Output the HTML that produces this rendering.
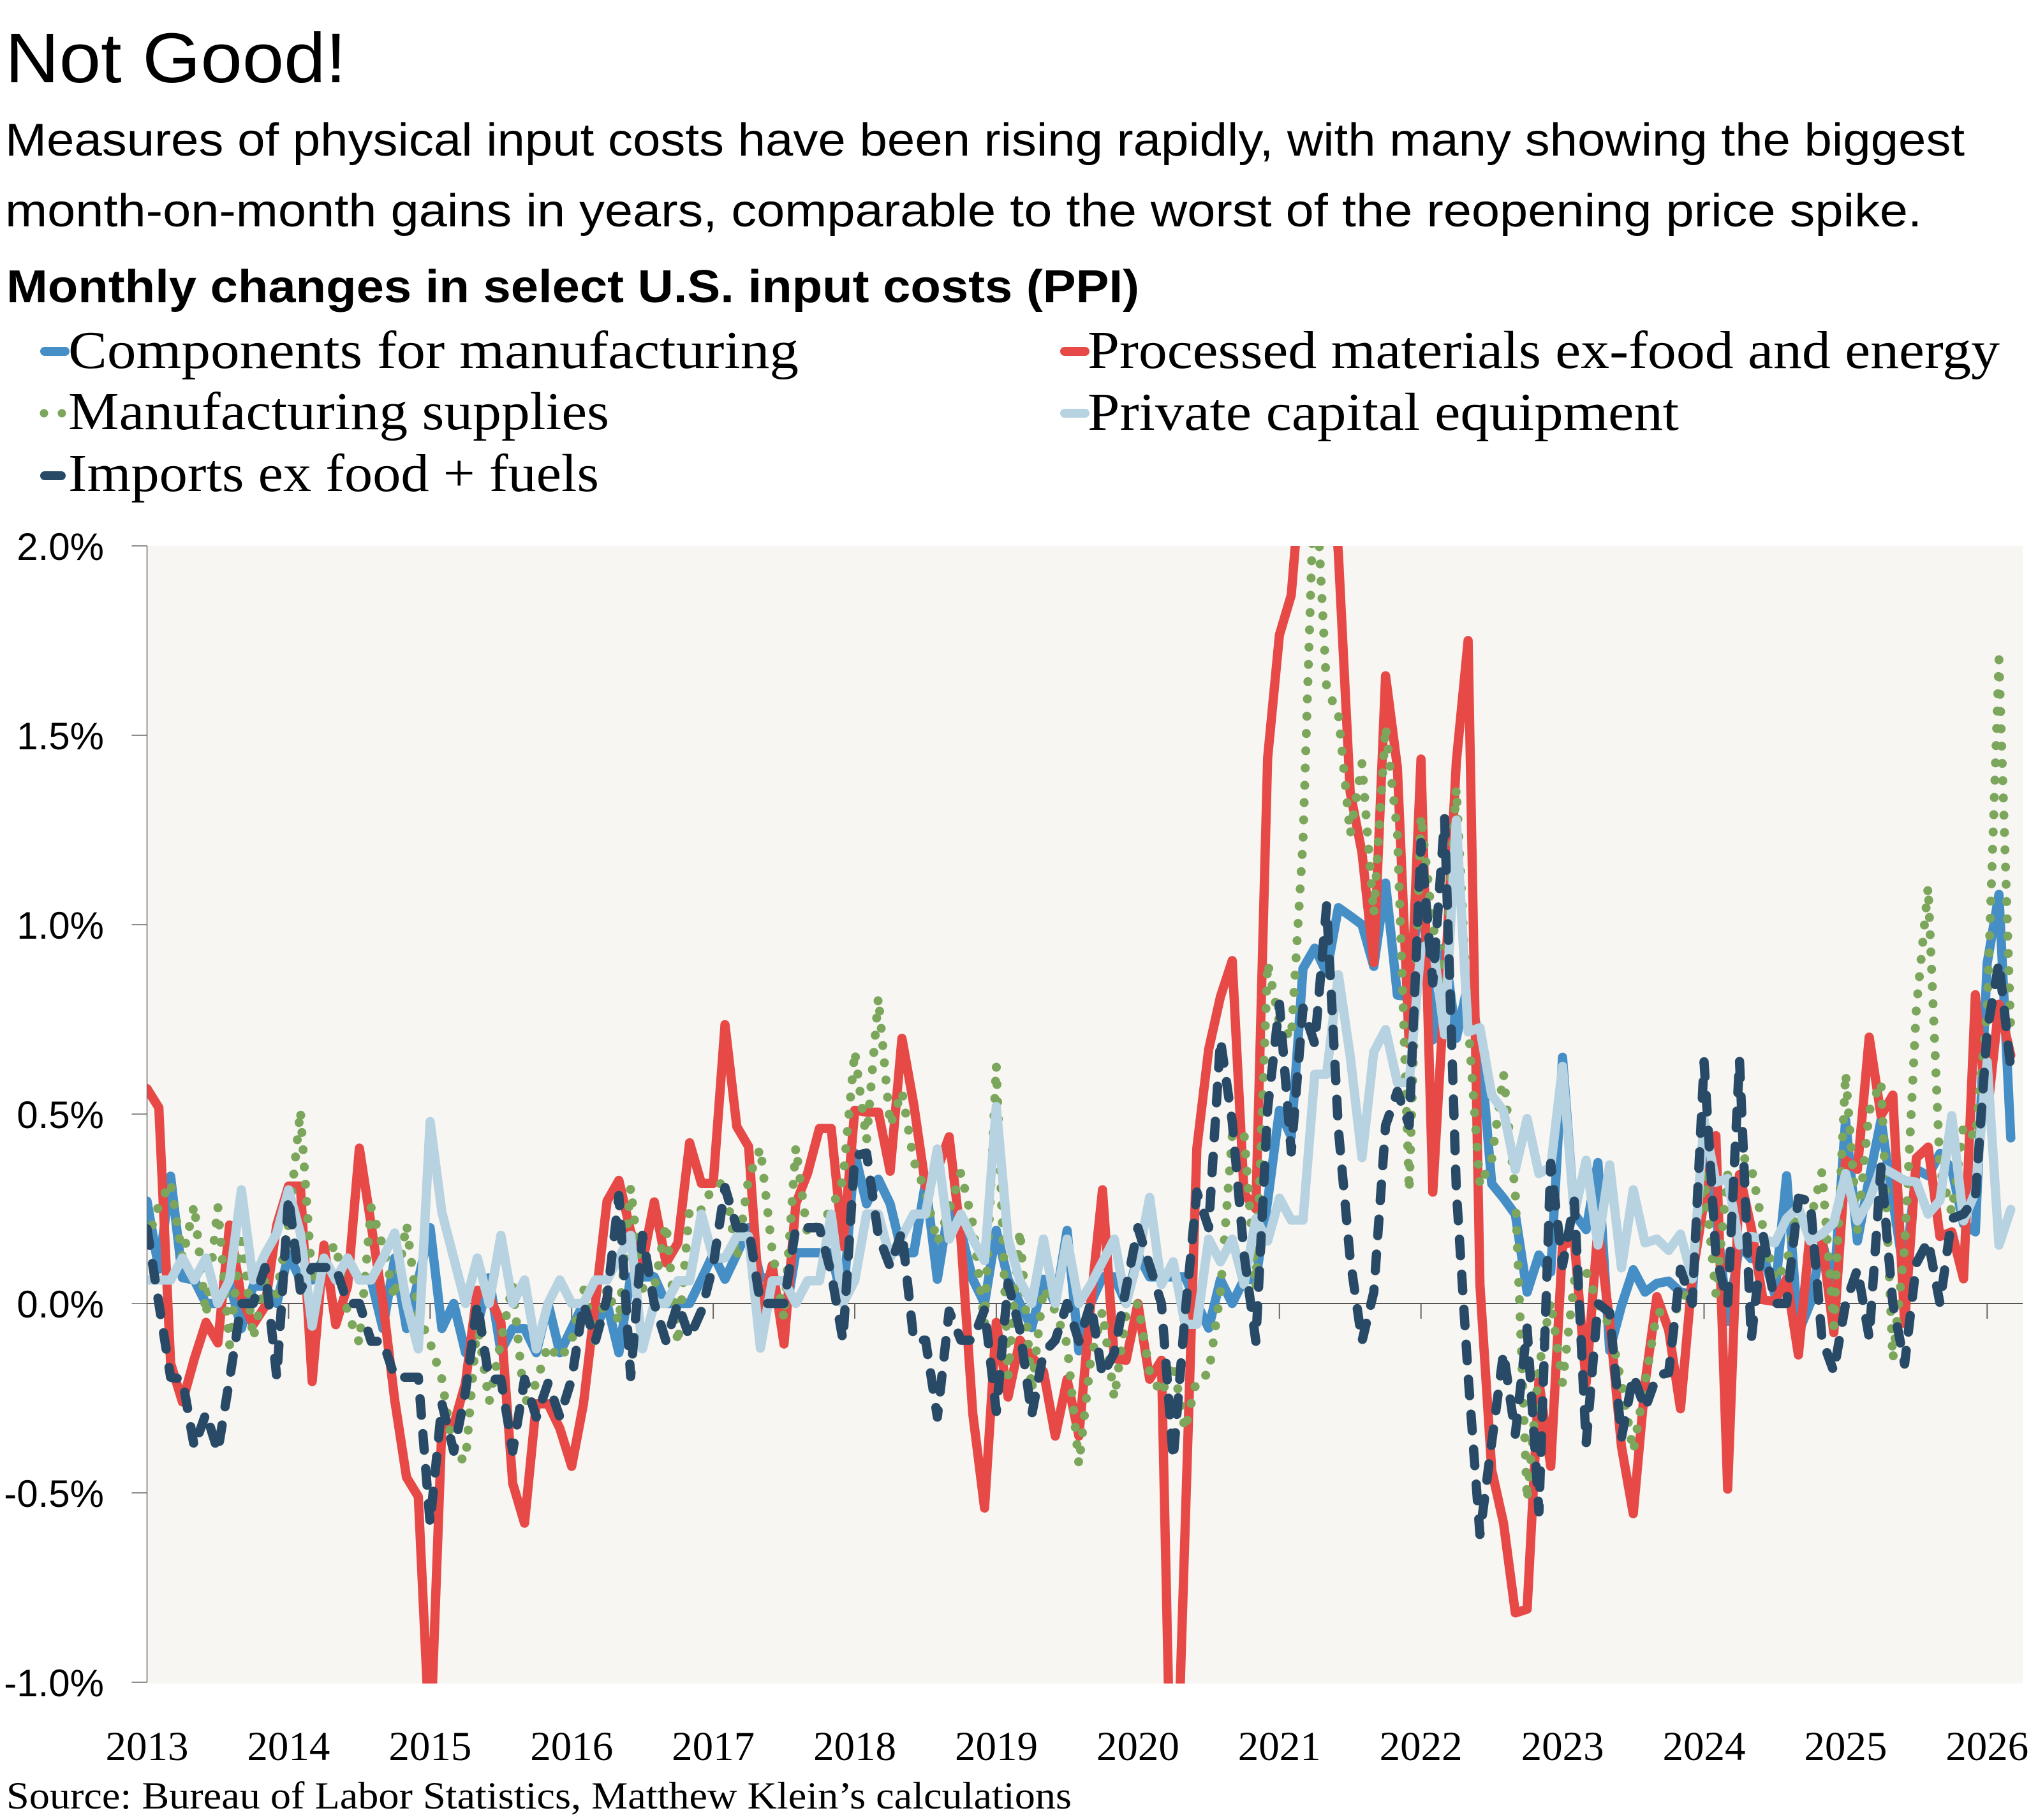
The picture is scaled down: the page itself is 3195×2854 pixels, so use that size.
<!DOCTYPE html>
<html lang="en">
<head>
<meta charset="utf-8">
<title>Not Good!</title>
<style>
html,body{margin:0;padding:0;background:#fff;width:3195px;height:2854px;overflow:hidden}
svg{display:block}
text{fill:#000}
.sans{font-family:"Liberation Sans",sans-serif}
.serif{font-family:"Liberation Serif",serif}
</style>
</head>
<body>
<svg id="chart" xmlns="http://www.w3.org/2000/svg" width="3195" height="2854" viewBox="0 0 3195 2854">
  <rect x="0" y="0" width="3195" height="2854" fill="#ffffff"/>
  <text class="sans" x="8" y="129" font-size="110" textLength="535" lengthAdjust="spacingAndGlyphs">Not Good!</text>
  <text class="sans" x="8" y="244" font-size="72" textLength="3072" lengthAdjust="spacingAndGlyphs">Measures of physical input costs have been rising rapidly, with many showing the biggest</text>
  <text class="sans" x="8" y="355" font-size="72" textLength="3005" lengthAdjust="spacingAndGlyphs">month-on-month gains in years, comparable to the worst of the reopening price spike.</text>
  <text class="sans" x="10" y="474" font-size="72" font-weight="700" textLength="1776" lengthAdjust="spacingAndGlyphs">Monthly changes in select U.S. input costs (PPI)</text>

  <g>
    <g>
      <line x1="70" y1="551" x2="102" y2="551" stroke="#468fc6" stroke-width="14" stroke-linecap="round"/>
      <text class="serif" x="107" y="577" font-size="84" textLength="1145" lengthAdjust="spacingAndGlyphs">Components for manufacturing</text>
    </g>
    <g>
      <circle cx="69" cy="648" r="6.5" fill="#7ca65c"/>
      <circle cx="97" cy="648" r="6.5" fill="#7ca65c"/>
      <text class="serif" x="107" y="673" font-size="84" textLength="848" lengthAdjust="spacingAndGlyphs">Manufacturing supplies</text>
    </g>
    <g>
      <line x1="70" y1="746" x2="96" y2="746" stroke="#284a66" stroke-width="14" stroke-linecap="round"/>
      <text class="serif" x="107" y="770" font-size="84" textLength="832" lengthAdjust="spacingAndGlyphs">Imports ex food + fuels</text>
    </g>
    <g>
      <line x1="1669" y1="551" x2="1701" y2="551" stroke="#e64946" stroke-width="14" stroke-linecap="round"/>
      <text class="serif" x="1705" y="577" font-size="84" textLength="1430" lengthAdjust="spacingAndGlyphs">Processed materials ex-food and energy</text>
    </g>
    <g>
      <line x1="1669" y1="648" x2="1701" y2="648" stroke="#b7d2e1" stroke-width="14" stroke-linecap="round"/>
      <text class="serif" x="1705" y="674" font-size="84" textLength="927" lengthAdjust="spacingAndGlyphs">Private capital equipment</text>
    </g>
  </g>

  <defs>
    <clipPath id="plot-clip"><rect x="231" y="856" width="2940" height="1784"/></clipPath>
  </defs>
  <rect x="231" y="856" width="2940" height="1784" fill="#f7f6f2"/>
  <g id="axes"></g>
  <g id="marks" clip-path="url(#plot-clip)"></g>

  <text class="serif" x="10" y="2836" font-size="60" textLength="1670" lengthAdjust="spacingAndGlyphs">Source: Bureau of Labor Statistics, Matthew Klein’s calculations</text>
</svg>

<script>
const yearLabels = ["2013","2014","2015","2016","2017","2018","2019","2020","2021","2022","2023","2024","2025","2026"];
const yTickValues = [2.0,1.5,1.0,0.5,0.0,-0.5,-1.0];
const yTickLabels = ["2.0%","1.5%","1.0%","0.5%","0.0%","-0.5%","-1.0%"];

const components = [.27,.09,.336,.068,.062,0,0,.057,-.066,.046,.046,0,.13,.062,.062,.12,.062,.12,.062,.062,-.066,.12,-.066,.062,.2,-.066,0,-.13,-.06,.068,-.126,-.066,-.066,-.13,0,-.13,-.066,0,-.066,0,-.13,.07,.07,.07,0,0,0,.064,.13,.064,.13,.2,.07,.064,-.054,.134,.134,.134,.134,0,.397,.263,.328,.263,.134,.134,.32,.064,.258,.19,.064,0,.193,.064,0,-.064,.064,0,.193,-.125,0,.07,.07,0,.13,.07,.07,.07,.07,0,-.065,.063,0,.063,.063,.27,.51,.44,.884,.938,.873,1.045,1.023,1.0,.89,1.11,.814,.81,1.13,.696,.94,.70,.846,.685,.316,.278,.235,.03,.128,.083,.65,.236,.195,.372,-.124,-.006,.089,.03,.053,.059,.03,.024,.484,.24,-.047,.154,.118,.13,.024,.337,-.077,0,.165,.04,.484,.165,.33,.484,.272,.07,.354,.337,.396,.354,.21,.189,.898,1.08,.437];

const processedMaterials = [.567,.517,-.158,-.26,-.147,-.05,-.104,.207,.014,-.056,-.008,.207,.31,.31,-.206,.154,-.056,.046,.41,.207,.003,-.255,-.459,-.51,-1.18,-.32,-.32,-.21,.035,.02,-.05,-.475,-.58,-.265,-.265,-.33,-.43,-.265,0,.27,.325,.19,.107,.268,.107,.16,.424,.317,.317,.736,.467,.414,-.03,.10,-.107,.263,.344,.462,.462,.15,.51,.505,.505,.349,.70,.526,.31,.354,.44,.17,-.29,-.54,-.05,-.247,-.097,-.14,-.18,-.35,-.2,-.35,0,.30,-.146,-.15,0,-.2,-.15,-1.6,-.6,.41,.67,.81,.905,.29,.25,1.44,1.765,1.87,2.25,2.4,2.4,1.98,1.35,1.19,.90,1.657,1.415,.685,1.437,.294,.83,1.43,1.75,.05,-.44,-.58,-.817,-.807,-.205,-.43,.154,.165,-.21,.2,-.047,-.378,-.555,-.21,.018,-.07,-.278,.07,.27,.443,-.49,.34,.2,.01,.005,.065,-.136,.19,.165,-.077,.378,.354,.703,.496,.55,-.053,.384,.413,.177,.189,.065,.815,.496,.79,.655];

const manufacturingSupplies = [.164,.26,.32,.12,.26,-.03,.255,-.11,.186,-.093,.057,.025,.21,.51,.057,.12,.156,-.024,-.104,.253,.15,.014,.21,-.03,-.104,-.2,-.4,-.415,-.05,-.26,-.1,.05,-.265,-.21,-.11,-.147,-.1,.04,-.1,.04,-.05,.306,.04,.04,.21,-.107,.252,.247,.31,.32,.12,.33,.41,.14,-.04,.413,.18,.21,.247,.327,.666,.43,.808,.47,.56,.376,.295,.16,.247,.346,.21,-.054,.628,-.193,.193,-.23,.04,-.02,-.107,-.425,-.15,-.02,-.25,-.03,0,-.18,-.24,-.157,-.334,-.2,-.186,.03,.445,.45,.04,.9,.74,.70,1.22,2.23,1.625,1.555,1.238,1.426,1.027,1.523,1.244,.297,1.287,1.0,.85,1.36,.74,.31,.38,.605,.29,-.52,-.17,.006,-.21,.06,.085,0,-.06,-.21,-.39,-.21,-.024,-.02,-.012,.07,.34,.024,.34,.40,.36,.2,.06,.106,.26,.218,.348,-.06,.608,.19,.508,.585,-.148,.148,.78,1.10,.354,.24,.47,.437,.774,1.70,.72];

const privateCapital = [.062,.062,.062,.12,.062,.12,0,.062,.30,.062,.13,.186,.30,.186,-.06,.12,.062,.12,.062,.062,.12,.186,0,-.12,.48,.24,.12,0,.12,0,.18,0,.062,-.12,0,.062,0,0,.062,.062,.12,.18,-.12,0,0,.06,.06,.236,.12,.12,.177,.177,-.118,.06,.06,0,.06,.06,.236,0,.06,.236,.236,.12,.177,.236,.236,.408,.17,.236,.17,.113,.52,.17,.06,0,.17,0,.17,0,.05,.11,.17,0,.117,.28,.05,.11,-.055,-.055,.17,.11,.17,.05,.224,.165,.278,.22,.22,.605,.605,.868,.653,.385,.664,.723,.583,.583,.94,.95,.71,1.276,.717,.728,.55,.508,.353,.488,.343,.36,.626,.236,.378,.154,.366,.094,.30,.16,.17,.14,.183,.065,.484,.32,.33,.154,.177,.17,.16,.224,.254,.165,.183,.213,.343,.218,.272,.36,.343,.325,.32,.236,.272,.496,.218,.295,.638,.154,.248];

const importsExFuels = [.197,0,-.195,-.2,-.378,-.29,-.39,-.2,0,0,.095,-.195,.28,.035,.095,.095,.095,0,0,-.1,-.1,-.195,-.195,-.195,-.58,-.265,-.39,-.233,0,-.2,-.2,-.39,-.2,-.3,-.21,-.3,-.2,0,-.1,.014,.285,-.193,.18,0,-.1,0,-.09,-.02,.1,.306,.2,.2,0,0,0,.2,.2,.2,.08,-.097,.39,.397,.18,.097,.19,-.097,-.097,-.3,-.02,-.097,-.097,-.016,-.285,.054,-.07,-.295,-.13,-.097,0,-.1,0,-.19,-.13,.04,.2,.1,0,-.41,-.03,.294,.2,.696,.48,.13,-.1,.515,.79,.40,.78,.685,1.05,.46,.117,-.1,.03,.47,.56,.47,1.217,.846,1.28,.30,-.19,-.61,-.366,-.13,-.345,-.065,-.55,.37,.1,.27,-.37,0,-.024,-.354,-.19,-.278,-.19,-.183,.09,0,.638,.13,0,.644,-.094,.183,0,0,.278,.27,-.094,-.18,0,.09,-.09,.36,0,-.16,.106,.165,0,.224,.236,.278,.72,.9,.62];

const SVGNS = "http://www.w3.org/2000/svg";
const axes = document.getElementById("axes");
const marks = document.getElementById("marks");

function xScale(monthIndex) { return 230.5 + monthIndex * (2884.8 / 156); }
function yScale(value) { return 2044 - value * 594; }

function pathFrom(values) {
  return values.map((v, i) => (i ? "L" : "M") + xScale(i).toFixed(1) + " " + yScale(v).toFixed(1)).join("");
}

function drawLine(values, name, color, width, dash) {
  const p = document.createElementNS(SVGNS, "path");
  
  
  p.setAttribute("d", pathFrom(values));
  p.setAttribute("fill", "none");
  p.setAttribute("stroke", color);
  p.setAttribute("stroke-width", width);
  p.setAttribute("stroke-linecap", "round");
  p.setAttribute("stroke-linejoin", "round");
  if (dash) p.setAttribute("stroke-dasharray", dash);
  marks.appendChild(p);
}

const yAxisLine = document.createElementNS(SVGNS, "line");


yAxisLine.setAttribute("x1", 230.5);
yAxisLine.setAttribute("x2", 230.5);
yAxisLine.setAttribute("y1", yScale(2));
yAxisLine.setAttribute("y2", yScale(-1));
yAxisLine.setAttribute("stroke", "#666");
yAxisLine.setAttribute("stroke-width", 1.5);
axes.appendChild(yAxisLine);

yTickValues.forEach((v, i) => {
  const t = document.createElementNS(SVGNS, "line");
  
  
  t.setAttribute("x1", 206.5);
  t.setAttribute("x2", 230.5);
  t.setAttribute("y1", yScale(v));
  t.setAttribute("y2", yScale(v));
  t.setAttribute("stroke", "#666");
  t.setAttribute("stroke-width", 1.5);
  axes.appendChild(t);

  const l = document.createElementNS(SVGNS, "text");
  
  
  l.setAttribute("class", "sans");
  l.setAttribute("x", 163);
  l.setAttribute("y", yScale(v) + 22);
  l.setAttribute("font-size", 60);
  l.setAttribute("text-anchor", "end");
  l.textContent = yTickLabels[i];
  axes.appendChild(l);
});

const zeroLine = document.createElementNS(SVGNS, "line");


zeroLine.setAttribute("x1", 230.5);
zeroLine.setAttribute("x2", 3171);
zeroLine.setAttribute("y1", yScale(0));
zeroLine.setAttribute("y2", yScale(0));
zeroLine.setAttribute("stroke", "#555");
zeroLine.setAttribute("stroke-width", 2);
axes.appendChild(zeroLine);

yearLabels.forEach((label, i) => {
  const x = xScale(i * 12);
  if (i > 0) {
    const t = document.createElementNS(SVGNS, "line");
    
    
    t.setAttribute("x1", x);
    t.setAttribute("x2", x);
    t.setAttribute("y1", yScale(0));
    t.setAttribute("y2", yScale(0) + 24);
    t.setAttribute("stroke", "#666");
    t.setAttribute("stroke-width", 2);
    axes.appendChild(t);
  }
  const l = document.createElementNS(SVGNS, "text");
  
  
  l.setAttribute("class", "serif");
  l.setAttribute("x", x);
  l.setAttribute("y", 2760);
  l.setAttribute("font-size", 65);
  l.setAttribute("text-anchor", "middle");
  l.textContent = label;
  axes.appendChild(l);
});

drawLine(components, "series-components", "#468fc6", 14.5);
drawLine(processedMaterials, "series-processed-materials", "#e64946", 14.5);
drawLine(manufacturingSupplies, "series-manufacturing-supplies", "#7ca65c", 14, "0.1 27");
drawLine(privateCapital, "series-private-capital", "#b7d2e1", 14.5);
drawLine(importsExFuels, "series-imports", "#284a66", 14.5, "26 29");
</script>
</body>
</html>
